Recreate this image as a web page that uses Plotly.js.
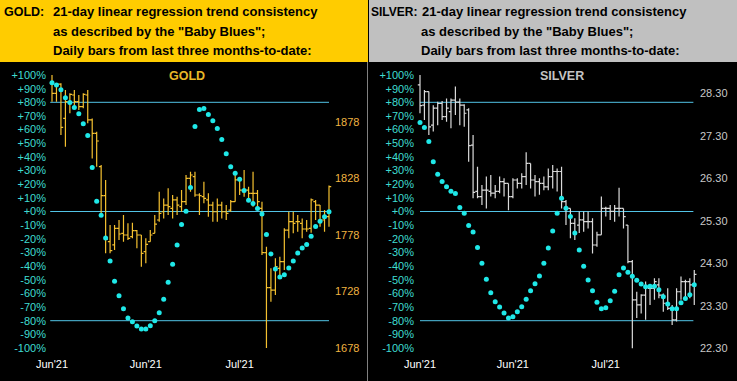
<!DOCTYPE html>
<html><head><meta charset="utf-8">
<script src="https://cdn.plot.ly/plotly-3.0.1.min.js"></script>
<style>html,body{margin:0;padding:0;background:#000;}#chart{width:737px;height:381px;}</style>
</head><body><div id="chart"></div>
<script>
// ---------- DATA ----------
const xLabels = ["Jun'21", "Jun'21", "Jul'21"];
const xLabelIdx = [0, 21, 42];
const pctTicks = [100,90,80,70,60,50,40,30,20,10,0,-10,-20,-30,-40,-50,-60,-70,-80,-90,-100];
const pctTickText = ['+100%','+90%','+80%','+70%','+60%','+50%','+40%','+30%','+20%','+10%','+0%','-10%','-20%','-30%','-40%','-50%','-60%','-70%','-80%','-90%','-100%'];
const bandLevels = [80, 0, -80];

const goldPriceTicks = [1678, 1728, 1778, 1828, 1878];
const silverPriceTicks = [22.30, 23.30, 24.30, 25.30, 26.30, 27.30, 28.30];
const silverPriceText = ['22.30','23.30','24.30','25.30','26.30','27.30','28.30'];

const goldOpen = [1912.2,1903.4,1911.6,1881.2,1896.0,1901.9,1896.0,1891.6,1901.9,1879.8,1868.0,1838.5,1812.8,1772.1,1769.2,1783.9,1779.5,1778.0,1776.5,1781.8,1778.0,1763.3,1772.1,1779.5,1791.3,1798.6,1804.5,1801.6,1809.0,1803.1,1807.5,1828.1,1829.6,1813.4,1811.9,1809.0,1804.5,1798.6,1804.5,1798.6,1800.1,1807.5,1826.7,1816.3,1817.8,1814.9,1814.9,1801.6,1762.4,1731.4,1729.3,1748.5,1754.4,1782.4,1789.8,1789.8,1788.3,1783.3,1783.9,1807.5,1804.5,1791.3,1794.2];
const goldHigh = [1919.6,1912.2,1912.2,1906.3,1903.4,1906.3,1901.9,1903.4,1906.3,1881.2,1869.4,1839.9,1826.7,1786.8,1786.8,1791.3,1795.7,1788.3,1788.9,1782.4,1778.0,1775.1,1782.4,1795.7,1816.3,1810.4,1819.3,1813.4,1811.9,1817.8,1831.1,1834.0,1834.0,1814.9,1825.2,1814.9,1807.5,1810.4,1807.5,1804.5,1809.0,1831.1,1828.1,1835.5,1820.8,1834.0,1817.8,1807.5,1767.7,1748.5,1757.4,1758.8,1783.9,1798.6,1798.6,1795.7,1792.7,1791.3,1810.4,1809.0,1804.5,1800.1,1821.7];
const goldLow = [1896.0,1896.0,1866.5,1856.2,1885.7,1890.1,1888.6,1890.1,1876.8,1845.8,1838.5,1794.0,1761.8,1761.8,1764.7,1773.6,1772.1,1773.6,1775.1,1766.2,1750.0,1752.9,1772.1,1779.5,1789.8,1792.7,1795.7,1792.7,1795.7,1798.6,1804.5,1816.3,1811.9,1795.7,1806.0,1794.2,1789.8,1789.8,1792.7,1791.3,1798.6,1807.5,1813.4,1811.9,1807.5,1803.1,1800.1,1760.3,1678.0,1719.0,1724.9,1739.7,1747.0,1775.1,1779.5,1780.9,1775.1,1780.9,1780.0,1791.3,1785.4,1780.9,1785.4];
const goldClose = [1903.4,1911.6,1873.3,1896.0,1902.5,1896.0,1891.6,1902.5,1879.8,1868.0,1861.2,1812.8,1774.2,1764.1,1783.9,1778.9,1778.0,1775.1,1781.8,1778.0,1761.8,1769.7,1778.0,1787.7,1797.2,1804.5,1803.1,1809.0,1804.5,1807.5,1828.1,1831.1,1813.4,1812.8,1810.4,1804.5,1798.6,1804.5,1798.6,1797.2,1807.5,1826.7,1817.8,1817.8,1814.9,1814.9,1807.5,1762.4,1731.4,1729.3,1750.0,1754.4,1782.4,1789.8,1788.3,1789.8,1783.3,1783.3,1809.0,1804.5,1791.3,1794.2,1820.8];
const goldBlues = [94.3,92.6,89.2,83.4,79.8,76.1,71.7,64.2,55.7,32.3,7.5,-2.7,-19.5,-36.2,-51.1,-61.8,-71.3,-78.1,-80.7,-83.9,-86.1,-86.1,-83.7,-80.0,-74.2,-64.2,-51.8,-38.7,-24.6,-9.5,0.2,17.5,62.2,74.7,75.4,71.0,66.4,60.8,52.8,42.3,32.8,28.0,23.6,15.3,8.3,5.8,2.2,-1.9,-16.8,-31.1,-42.1,-47.9,-46.4,-41.3,-36.2,-30.4,-26.7,-24.1,-18.2,-10.9,-7.1,-3.9,-0.2];

const silverOpen = [28.50,28.02,28.34,27.55,27.95,28.06,27.75,27.87,28.14,28.09,28.02,27.91,27.08,25.99,25.87,26.02,25.99,25.95,25.99,26.22,26.18,25.87,26.26,26.18,26.34,26.65,26.26,26.22,26.18,26.10,26.34,26.46,26.46,25.75,25.59,25.24,25.20,25.32,25.28,25.28,24.73,24.97,25.59,25.59,25.52,25.59,25.59,25.20,24.34,23.44,23.32,23.55,23.71,23.71,23.79,23.55,23.36,23.24,22.97,23.63,23.87,23.87,23.79];
const silverHigh = [28.73,28.38,28.34,28.02,28.10,28.12,28.18,28.18,28.46,28.18,28.04,27.95,27.32,26.57,26.14,26.34,26.38,26.14,26.34,26.30,26.18,26.30,26.30,26.42,26.91,26.65,26.38,26.30,26.34,26.53,26.61,26.53,26.57,25.79,25.59,25.36,25.52,25.52,25.52,25.36,25.04,25.87,25.63,25.67,25.67,26.08,25.59,25.20,24.38,23.63,23.57,23.87,23.75,23.95,23.95,23.59,23.71,23.32,23.71,23.99,23.91,23.95,24.14];
const silverLow = [27.83,27.67,27.32,27.40,27.55,27.67,27.63,27.48,27.79,27.55,27.51,26.69,25.83,25.83,25.67,25.59,25.87,25.83,25.95,25.87,25.55,25.83,26.06,26.06,26.14,26.06,25.87,25.91,26.02,26.02,26.06,25.99,25.59,25.20,24.89,24.85,25.01,25.04,25.12,24.53,24.69,24.97,25.40,25.32,25.28,25.40,25.12,24.30,22.30,23.01,23.12,22.97,23.32,23.44,23.48,23.16,23.20,22.85,22.93,23.44,23.48,23.48,23.32];
const silverClose = [28.01,28.34,27.51,27.95,28.06,27.75,27.95,28.14,28.09,28.02,27.83,27.07,25.97,25.87,26.02,26.02,25.95,25.99,26.22,26.18,25.87,26.26,26.18,26.34,26.65,26.26,26.22,26.18,26.10,26.34,26.46,26.46,25.75,25.59,25.24,25.01,25.32,25.28,25.28,24.73,24.97,25.59,25.59,25.52,25.59,25.59,25.40,24.34,23.44,23.32,23.55,23.75,23.71,23.87,23.55,23.36,23.24,22.97,23.63,23.87,23.87,23.79,24.04];
const silverBlues = [65.2,61.5,51.3,36.5,27.2,21.9,18.2,14.8,13.1,2.9,-1.2,-10.2,-15.1,-26.3,-37.9,-49.6,-59.6,-66.1,-70.0,-74.4,-78.1,-77.1,-73.4,-69.8,-64.2,-58.1,-53.0,-47.2,-37.9,-26.7,-14.3,-1.2,9.7,2.4,-3.6,-15.8,-28.2,-40.1,-50.1,-58.1,-66.4,-71.2,-70.5,-65.4,-58.4,-46.4,-41.3,-44.5,-47.4,-50.3,-53.2,-55.2,-54.7,-54.7,-57.4,-62.5,-67.8,-71.2,-71.2,-66.9,-63.7,-61.0,-53.7];

const headerGold = ['GOLD:', '21-day linear regression trend consistency', 'as described by the "Baby Blues";', 'Daily bars from last three months-to-date:'];
const headerSilver = ['SILVER:', '21-day linear regression trend consistency', 'as described by the "Baby Blues";', 'Daily bars from last three months-to-date:'];

// ---------- LAYOUT HELPERS ----------
const W = 737, H = 381;
const px = v => v / W;
const py = v => 1 - v / H;
const idxG = goldOpen.map((_, i) => i);
const idxS = silverOpen.map((_, i) => i);

const FONT = 'Liberation Sans, Arial, sans-serif';
const CYAN = '#1fe8e8';
const LINEBLUE = '#52c4e6';
const PCTCOL = '#3fdcd0';
const GOLDBAR = '#f4c030';
const SILVERBAR = '#dadada';

const traces = [
  {type:'ohlc', x:idxG, open:goldOpen, high:goldHigh, low:goldLow, close:goldClose,
   xaxis:'x', yaxis:'y', tickwidth:0.5, hoverinfo:'skip', showlegend:false,
   increasing:{line:{color:GOLDBAR, width:1.2}}, decreasing:{line:{color:GOLDBAR, width:1.2}}},
  {type:'scatter', mode:'markers', x:idxG, y:goldBlues, xaxis:'x', yaxis:'y2',
   marker:{color:CYAN, size:5}, hoverinfo:'skip', showlegend:false},
  {type:'ohlc', x:idxS, open:silverOpen, high:silverHigh, low:silverLow, close:silverClose,
   xaxis:'x2', yaxis:'y3', tickwidth:0.5, hoverinfo:'skip', showlegend:false,
   increasing:{line:{color:SILVERBAR, width:1.2}}, decreasing:{line:{color:SILVERBAR, width:1.2}}},
  {type:'scatter', mode:'markers', x:idxS, y:silverBlues, xaxis:'x2', yaxis:'y4',
   marker:{color:CYAN, size:5}, hoverinfo:'skip', showlegend:false}
];

const yTop = 70, yBot = 353;
const pctRange = [-103.66, 103.66];

function xAxis(domain, range) {
  return {domain:domain, range:range, showgrid:false, zeroline:false, showline:false,
    tickmode:'array', tickvals:xLabelIdx, ticktext:xLabels, ticks:'', ticklabelstandoff:3,
    tickfont:{family:FONT, size:11, color:'#ffffff'}, rangeslider:{visible:false}, fixedrange:true};
}
function pctAxis(over, anchor) {
  return {overlaying:over, anchor:anchor, side:'left', range:pctRange, showgrid:false, zeroline:false,
    showline:false, tickmode:'array', tickvals:pctTicks, ticktext:pctTickText, ticks:'',
    tickfont:{family:FONT, size:11, color:PCTCOL}, fixedrange:true};
}

const layout = {
  width:W, height:H, autosize:false, margin:{l:0, r:0, t:0, b:0, pad:0},
  paper_bgcolor:'#000', plot_bgcolor:'#000', showlegend:false,
  xaxis: xAxis([px(47), px(334)], [-1.12, 63.12]),
  xaxis2: xAxis([px(415), px(699)], [-1.13, 63.07]),
  yaxis: {domain:[py(yBot), py(yTop)], anchor:'x', side:'right', range:[1673.58, 1924.02],
    showgrid:false, zeroline:false, showline:false, tickmode:'array', tickvals:goldPriceTicks, ticks:'',
    tickfont:{family:FONT, size:11, color:'#f0b440'}, fixedrange:true},
  yaxis2: pctAxis('y', 'x'),
  yaxis3: {domain:[py(yBot), py(yTop)], anchor:'x2', side:'right', range:[22.189, 28.848],
    showgrid:false, zeroline:false, showline:false, tickmode:'array', tickvals:silverPriceTicks,
    ticktext:silverPriceText, ticks:'',
    tickfont:{family:FONT, size:11, color:'#c8c8c8'}, fixedrange:true},
  yaxis4: pctAxis('y3', 'x2'),
  shapes: [
    {type:'rect', xref:'paper', yref:'paper', x0:0, x1:px(368), y0:py(62), y1:1, fillcolor:'#ffcc00', line:{width:0}, layer:'below'},
    {type:'rect', xref:'paper', yref:'paper', x0:px(369), x1:1, y0:py(62), y1:1, fillcolor:'#c0c0c0', line:{width:0}, layer:'below'},
    {type:'line', xref:'paper', yref:'paper', x0:px(367.5), x1:px(367.5), y0:0, y1:py(62), line:{color:'#808080', width:1}}
  ],
  annotations: []
};
bandLevels.forEach(v => {
  layout.shapes.push({type:'line', xref:'x', yref:'y2', x0:-0.4, x1:62, y0:v, y1:v, line:{color:LINEBLUE, width:1}, layer:'below'});
  layout.shapes.push({type:'line', xref:'x2', yref:'y4', x0:0, x1:61.8, y0:v, y1:v, line:{color:LINEBLUE, width:1}, layer:'below'});
});

function hdr(text, x, y, size) {
  return {text:'<b>'+text+'</b>', xref:'paper', yref:'paper', x:px(x), y:py(y), xanchor:'left', yanchor:'middle',
    showarrow:false, font:{family:FONT, size:size || 13, color:'#000000'}};
}
const lineY = [12, 31.5, 51];
layout.annotations.push(hdr(headerGold[0], 2, lineY[0], 12.5));
layout.annotations.push(hdr(headerGold[1], 51, lineY[0]));
layout.annotations.push(hdr(headerGold[2], 51, lineY[1]));
layout.annotations.push(hdr(headerGold[3], 51, lineY[2]));
layout.annotations.push(hdr(headerSilver[0], 369, lineY[0], 12));
layout.annotations.push(hdr(headerSilver[1], 420, lineY[0]));
layout.annotations.push(hdr(headerSilver[2], 419, lineY[1]));
layout.annotations.push(hdr(headerSilver[3], 419, lineY[2]));
layout.annotations.push({text:'<b>GOLD</b>', xref:'paper', yref:'paper', x:px(186.5), y:py(76), xanchor:'center', yanchor:'middle',
  showarrow:false, font:{family:FONT, size:12.5, color:'#e8b828'}});
layout.annotations.push({text:'<b>SILVER</b>', xref:'paper', yref:'paper', x:px(562), y:py(76), xanchor:'center', yanchor:'middle',
  showarrow:false, font:{family:FONT, size:12.5, color:'#c4c4c4'}});

Plotly.newPlot('chart', traces, layout, {displayModeBar:false, staticPlot:true});
</script>
</body></html>
